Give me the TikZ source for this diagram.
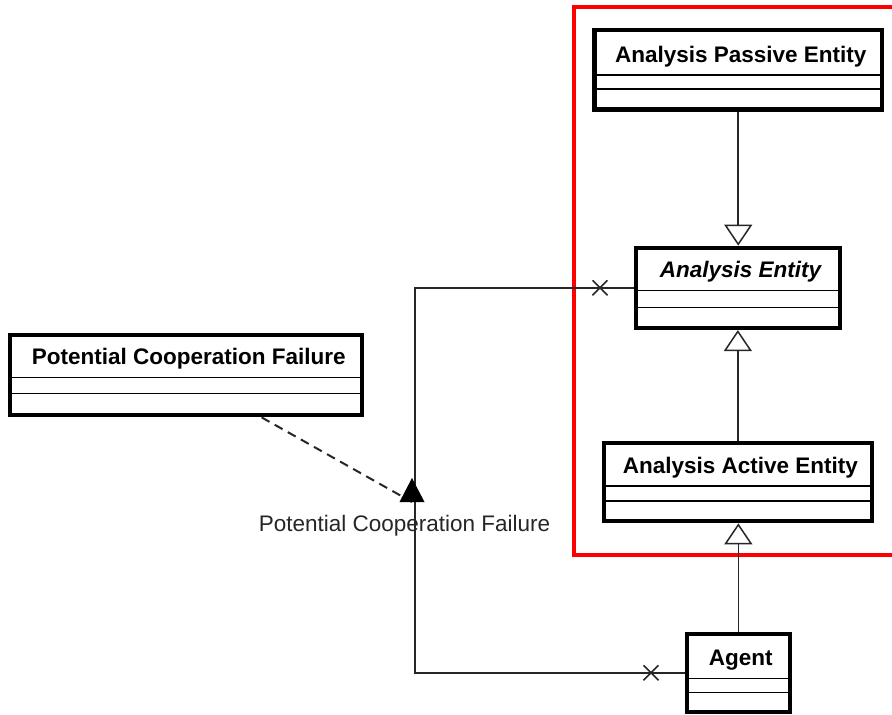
\documentclass[tikz,border=0pt]{standalone}
\usepackage{fontspec}
\setmainfont{Liberation Sans}
\usetikzlibrary{arrows.meta,fit,calc}
\tikzset{
  clsbox/.style={draw, line width=4.2pt, inner sep=0pt},
  sepl/.style={line width=1.3pt},
  ttl/.style={font=\bfseries\fontsize{22.5}{27}\selectfont, anchor=base, inner sep=0pt},
  gen/.style={line width=1.6pt, draw=black!85, -{Triangle[length=21pt, width=28pt, fill=white, line width=1.5pt]}},
  assoc/.style={line width=1.6pt, draw=black!85},
  dep/.style={line width=2pt, draw=black!85, dash pattern=on 9pt off 6pt},
  lbl/.style={font=\fontsize{22.5}{27}\selectfont, anchor=base, inner sep=0pt, text=black!85},
  pkg/.style={draw=red, line width=4pt}
}
\newcommand{\umlclass}[8]{%
  \node[clsbox, fit={(#2,#3) (#4,#7)}] (#1) {};
  \draw[sepl] (#2,#5) -- (#4,#5);
  \draw[sepl] (#2,#6) -- (#4,#6);
  \node[ttl] (#1-t) at ({(#2+#4)/2+2.5},{#5-13}) {#8};
}
\begin{document}
\begin{tikzpicture}[x=1pt,y=-1pt]
\useasboundingbox (0,0) rectangle (892,715);
\clip (0,0) rectangle (892,715);
% package frame
\draw[pkg] (573.7,7) rectangle (905,555);
% classes
\umlclass{ape}{594.5}{30}{882}{75}{89}{109.5}{Analysis Passive Entity}
\umlclass{ae}{636.3}{247.7}{839.7}{290.7}{307.3}{328}{\itshape Analysis Entity}
\umlclass{aae}{603.7}{442.7}{872}{486}{501}{521.3}{Analysis Active Entity}
\umlclass{agent}{687}{633.7}{789.7}{678.3}{692.3}{712}{Agent}
\umlclass{pcf}{10.3}{334.7}{362.3}{377.7}{393.3}{415.3}{Potential Cooperation Failure}
% generalizations
\draw[gen] (ape.south) -- (ape.south |- ae.north);
\draw[gen] (aae.north) -- (aae.north |- ae.south);
\draw[gen] (agent.north) -- (agent.north |- aae.south);
% association
\coordinate (bx) at (415,0);
\node[lbl] (assoclabel) at (404.5,531) {Potential Cooperation Failure};
\draw[assoc] (ae.west) -- (ae.west -| bx) -- (agent.west -| bx) -- (agent.west);
\draw[assoc] ($(ae.west)+(-41.7,-7.5)$) -- ++(15,15);
\draw[assoc] ($(ae.west)+(-41.7,7.5)$) -- ++(15,-15);
\draw[assoc] ($(agent.west)+(-41.4,-7.5)$) -- ++(15,15);
\draw[assoc] ($(agent.west)+(-41.4,7.5)$) -- ++(15,-15);
% association class link and direction triangle
\coordinate (dir) at (412,502);
\draw[dep] (pcf) -- (dir);
\fill ($(dir)+(-12.5,0)$) -- ($(dir)+(0,-24)$) -- ($(dir)+(12.5,0)$) -- cycle;
\end{tikzpicture}
\end{document}
